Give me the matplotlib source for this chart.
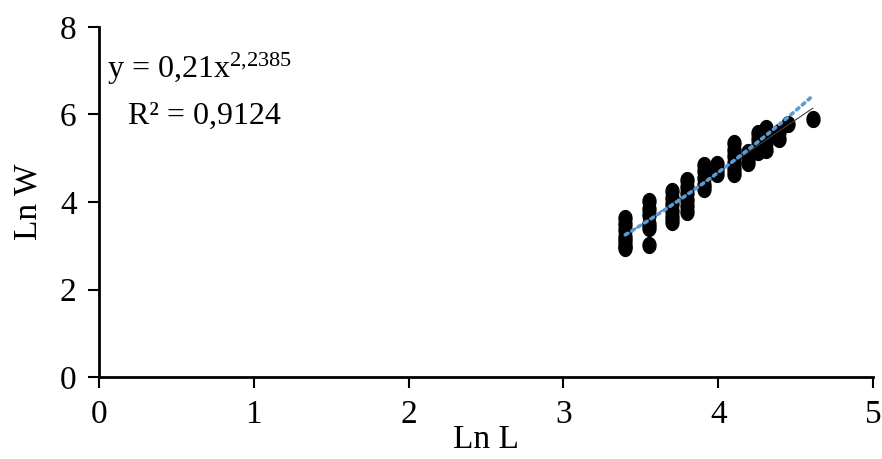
# Ln W vs Ln L scatter with power trendline

import numpy as np
import matplotlib.pyplot as plt

plt.rcParams['font.family'] = ['Liberation Serif', 'DejaVu Serif']
plt.rcParams['mathtext.fontset'] = 'custom'
plt.rcParams['mathtext.rm'] = 'Liberation Serif'
plt.rcParams['mathtext.it'] = 'Liberation Serif:italic'

# Data (one list per length class)
ln_l_classes = [3.40, 3.55, 3.70, 3.80, 3.91, 3.99, 4.10, 4.19, 4.26, 4.31, 4.39, 4.45, 4.61]
ln_w_groups = [
    [3.63, 3.50, 3.35, 3.20, 3.10, 3.00, 2.95],
    [4.02, 3.85, 3.70, 3.50, 3.40, 3.02],
    [4.25, 4.10, 3.95, 3.80, 3.65, 3.55],
    [4.50, 4.35, 4.20, 4.05, 3.90, 3.77],
    [4.85, 4.70, 4.55, 4.40, 4.30],
    [4.88, 4.75, 4.65],
    [5.35, 5.20, 5.05, 4.90, 4.75, 4.64],
    [5.15, 5.00, 4.90],
    [5.58, 5.45, 5.30, 5.15],
    [5.69, 5.50, 5.35, 5.20],
    [5.60, 5.45],
    [5.78],
    [5.90],
]
ln_l = np.concatenate([[x] * len(g) for x, g in zip(ln_l_classes, ln_w_groups)])
ln_w = np.concatenate(ln_w_groups)

# Power trendline coefficients shown on the chart
a_coef = 0.21
b_coef = 2.2385
equation = r'y = 0,21x$^{\mathrm{2{,}2385}}$'
r2_text = 'R² = 0,9124'

fig = plt.figure(figsize=(8.82, 4.59), dpi=100)
ax = fig.add_axes([0.1122, 0.1786, 0.8776, 0.7626])

# slightly tall ellipse marker
t = np.linspace(0, 2 * np.pi, 40)
ell = np.column_stack([0.82 * np.cos(t), np.sin(t)])
ax.scatter(ln_l, ln_w, s=130, marker=ell, color='black', zorder=2)

xt = np.linspace(ln_l.min(), ln_l.max(), 50)
lin = np.polyfit(ln_l, ln_w, 1)
ax.plot(xt, np.polyval(lin, xt), color='#404040', lw=0.8, zorder=3)
ax.plot(xt, a_coef * xt ** b_coef, color='#5B9BD5', lw=2.6, ls=(0, (0.8, 1.3)),
        dash_capstyle='round', zorder=4)

ax.set_xlim(0, 5)
ax.set_ylim(0, 8)
ax.set_xticks(range(0, 6))
ax.set_yticks(range(0, 9, 2))
for s in ['top', 'right']:
    ax.spines[s].set_visible(False)
for s in ['left', 'bottom']:
    ax.spines[s].set_linewidth(2)
ax.tick_params(width=1.5, length=8, labelsize=24, pad=8)

ax.set_xlabel('Ln L', fontsize=24, labelpad=-4)
ax.set_ylabel('Ln W', fontsize=24, labelpad=12)

ax.text(0.05, 7.05, equation, fontsize=23, va='center', ha='left')
ax.text(0.19, 5.95, r2_text, fontsize=23, va='center', ha='left')

fig.savefig('out.png', dpi=100)
